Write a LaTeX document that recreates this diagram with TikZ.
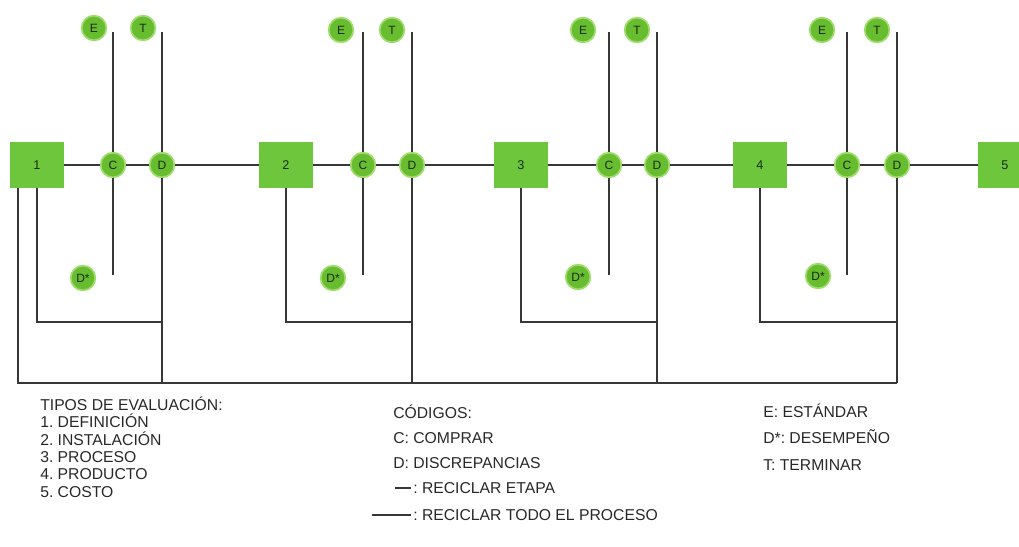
\documentclass[tikz,border=0pt]{standalone}
\usepackage{fontspec}
\setmainfont{Liberation Sans}
\definecolor{boxgreen}{RGB}{110,198,60}
\definecolor{dotgreen}{RGB}{104,188,48}
\definecolor{glow}{RGB}{160,220,110}
\definecolor{linegray}{RGB}{55,55,55}
\definecolor{legtext}{RGB}{40,40,40}
\definecolor{nodetext}{RGB}{25,45,15}
\frenchspacing
\begin{document}
\begin{tikzpicture}[x=0.75pt,y=-0.75pt,
  link/.style={draw=linegray, line width=1.7pt},
  stage/.style={fill=boxgreen, minimum width=40pt, minimum height=34pt, inner sep=0pt, text=nodetext, font=\fontsize{9.5}{10}\selectfont},
  dot/.style={circle, fill=dotgreen, draw=glow, line width=1.3pt, minimum size=18.5pt, inner sep=0pt, text=nodetext, font=\fontsize{9}{9}\selectfont},
  leg/.style={anchor=base west, font=\fontsize{11.8}{12}\selectfont, inner sep=0pt, text=legtext}]
\useasboundingbox (0,0) rectangle (1019,546);
% guide coordinates
\coordinate (top) at (0,32);
\coordinate (cbot) at (0,275);
\coordinate (mid) at (0,322);
\coordinate (bot) at (0,383);
% stage 1
\node[stage] (b1) at (37,165) {1};
\node[dot] (c1) at (113,165) {C};
\node[dot] (d1) at (162,165) {D};
\node[dot] (e1) at (94,28) {E};
\node[dot] (t1) at (143,28) {T};
\node[dot] (s1) at (83,278) {D*};
% stage 2
\node[stage] (b2) at (286,165) {2};
\node[dot] (c2) at (363,165) {C};
\node[dot] (d2) at (412,165) {D};
\node[dot] (e2) at (341,30) {E};
\node[dot] (t2) at (392,30) {T};
\node[dot] (s2) at (333,278) {D*};
% stage 3
\node[stage] (b3) at (521,165) {3};
\node[dot] (c3) at (609,165) {C};
\node[dot] (d3) at (657,165) {D};
\node[dot] (e3) at (583,30) {E};
\node[dot] (t3) at (637,30) {T};
\node[dot] (s3) at (578,277) {D*};
% stage 4
\node[stage] (b4) at (760,165) {4};
\node[dot] (c4) at (847,165) {C};
\node[dot] (d4) at (897,165) {D};
\node[dot] (e4) at (822,30) {E};
\node[dot] (t4) at (877,30) {T};
\node[dot] (s4) at (818,276) {D*};
% stage 5
\node[stage] (b5) at (1005,165) {5};
% main chain
\draw[link] (b1) -- (c1);
\draw[link] (c1) -- (d1);
\draw[link] (d1) -- (b2);
\draw[link] (b2) -- (c2);
\draw[link] (c2) -- (d2);
\draw[link] (d2) -- (b3);
\draw[link] (b3) -- (c3);
\draw[link] (c3) -- (d3);
\draw[link] (d3) -- (b4);
\draw[link] (b4) -- (c4);
\draw[link] (c4) -- (d4);
\draw[link] (d4) -- (b5);
% verticals
\foreach \i in {1,2,3,4}{
  \draw[link] (c\i) -- (c\i |- top);
  \draw[link] (c\i) -- (c\i |- cbot);
  \draw[link] (d\i) -- (d\i |- top);
  \draw[link] (d\i) -- (d\i |- bot);
  \draw[link] (b\i.south) |- (d\i |- mid);
}
% recycle whole process
\coordinate (o1) at ([xshift=-14]b1.south);
\draw[link] (o1) |- (d4 |- bot);
% legend
\node[leg] (l1) at (40,410) {TIPOS DE EVALUACIÓN:};
\node[leg] (l2) at (40,427.5) {1. DEFINICIÓN};
\node[leg] (l3) at (40,445) {2. INSTALACIÓN};
\node[leg] (l4) at (40,462) {3. PROCESO};
\node[leg] (l5) at (40,479) {4. PRODUCTO};
\node[leg] (l6) at (40,497) {5. COSTO};
\node[leg] (m1) at (393,418) {CÓDIGOS:};
\node[leg] (m2) at (393,443) {C: COMPRAR};
\node[leg] (m3) at (393,468) {D: DISCREPANCIAS};
\node[leg] (m4) at (413,493) {: RECICLAR ETAPA};
\node[leg] (m5) at (413,520) {: RECICLAR TODO EL PROCESO};
\coordinate (k1) at (395,488);
\coordinate (k2) at (411,488);
\coordinate (k3) at (372,515);
\coordinate (k4) at (411,515);
\draw[link] (k1) -- (k2);
\draw[link] (k3) -- (k4);
\node[leg] (r1) at (763,417) {E: ESTÁNDAR};
\node[leg] (r2) at (763,443) {D*: DESEMPEÑO};
\node[leg] (r3) at (763,470) {T: TERMINAR};
\end{tikzpicture}
\end{document}
